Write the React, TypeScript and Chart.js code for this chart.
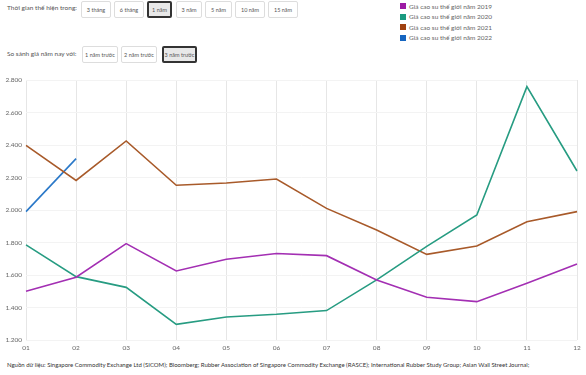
import React, { useEffect, useRef } from "react";
import { Chart, registerables } from "chart.js";

Chart.register(...registerables);

const months = ["01", "02", "03", "04", "05", "06", "07", "08", "09", "10", "11", "12"];
const seriesNames = [
  "Giá cao su thế giới năm 2019",
  "Giá cao su thế giới năm 2020",
  "Giá cao su thế giới năm 2021",
  "Giá cao su thế giới năm 2022",
];
const price2019 = [1500, 1586, 1793, 1625, 1697, 1732, 1719, 1569, 1463, 1436, 1549, 1668];
const price2020 = [1785, 1590, 1524, 1296, 1342, 1358, 1381, 1570, 1776, 1969, 2759, 2240];
const price2021 = [2398, 2182, 2425, 2152, 2166, 2191, 2010, 1877, 1727, 1778, 1928, 1990];
const price2022 = [1990, 2316];
const lineColors = ["#a32fb3", "#279c82", "#a85a2a", "#2a78c8"];
const legendColors = ["#9c1aa3", "#1a9a80", "#a0410f", "#1565c0"];
const periodOptions = ["3 tháng", "6 tháng", "1 năm", "3 năm", "5 năm", "10 năm", "15 năm"];
const compareOptions = ["1 năm trước", "2 năm trước", "3 năm trước"];
const yTicks = [1200, 1400, 1600, 1800, 2000, 2200, 2400, 2600, 2800];
const footnote =
  "Nguồn dữ liệu: Singapore Commodity Exchange Ltd (SICOM); Bloomberg; Rubber Association of Singapore Commodity Exchange (RASCE); International Rubber Study Group; Asian Wall Street Journal;";

const FONT = "Lato, 'Liberation Sans', sans-serif";

function fmt(v: number) {
  return String(v).replace(/\B(?=(\d{3})+(?!\d))/g, ".");
}

const periodWidths = [30, 30, 25, 26, 27, 30, 30];
const periodLefts = [81, 114, 147, 176, 205, 235, 268];
const compareWidths = [36, 36, 35];
const compareLefts = [82, 121, 162];

function Btn(props: { label: string; left: number; top: number; width: number; height: number; selected: boolean }) {
  const { label, left, top, width, height, selected } = props;
  return (
    <div
      style={{
        position: "absolute",
        left,
        top,
        width,
        height,
        boxSizing: "border-box",
        border: selected ? "2px solid #333" : "1px solid #ddd",
        borderRadius: 2,
        background: selected ? "#e8e8e8" : "#fff",
        fontSize: 5.5,
        color: "#555",
        display: "flex",
        alignItems: "center",
        justifyContent: "center",
        whiteSpace: "nowrap",
        fontFamily: FONT,
      }}
    >
      {label}
    </div>
  );
}

export default function App() {
  const canvasRef = useRef<HTMLCanvasElement>(null);

  useEffect(() => {
    document.body.style.margin = "0";
    const ctx = canvasRef.current!;
    const data = [price2019, price2020, price2021, price2022];
    const chart = new Chart(ctx, {
      type: "line",
      data: {
        labels: months,
        datasets: data.map((d, i) => ({
          label: seriesNames[i],
          data: d,
          borderColor: lineColors[i],
          backgroundColor: lineColors[i],
          borderWidth: 1.6,
          pointRadius: 0,
          tension: 0,
          fill: false,
        })),
      },
      options: {
        animation: false,
        responsive: false,
        maintainAspectRatio: false,
        layout: { padding: { top: 10, right: 9, left: 0, bottom: 0 } },
        plugins: { legend: { display: false }, tooltip: { enabled: false } },
        scales: {
          x: {
            grid: { color: "#e6e6e6", drawTicks: false },
            border: { display: false },
            ticks: {
              color: "#666",
              font: { size: 6.5, family: FONT },
              padding: 4,
              maxRotation: 0,
            },
            afterFit: (s: any) => {
              s.height = 20;
            },
          },
          y: {
            min: 1200,
            max: 2800,
            grid: { color: "#f3f3f3", drawTicks: false },
            border: { display: false },
            afterBuildTicks: (s: any) => {
              s.ticks = yTicks.map((v) => ({ value: v }));
            },
            ticks: {
              color: "#666",
              font: { size: 6.5, family: FONT },
              padding: 4,
              callback: (v: any) => fmt(Number(v)),
            },
            afterFit: (s: any) => {
              s.width = 26;
            },
          },
        },
      },
    });
    return () => chart.destroy();
  }, []);

  return (
    <div style={{ position: "relative", width: 586, height: 375, fontFamily: FONT, color: "#555", overflow: "hidden" }}>
      <div style={{ position: "absolute", left: 7, top: 4, fontSize: 6.5, whiteSpace: "nowrap" }}>Thời gian thể hiện trong:</div>
      {periodOptions.map((p, i) => (
        <Btn key={p} label={p} left={periodLefts[i]} top={1} width={periodWidths[i]} height={17} selected={i === 2} />
      ))}
      <div style={{ position: "absolute", left: 7, top: 50, fontSize: 6.5, whiteSpace: "nowrap" }}>So sánh giá năm nay với:</div>
      {compareOptions.map((p, i) => (
        <Btn key={p} label={p} left={compareLefts[i]} top={46} width={compareWidths[i]} height={17} selected={i === 2} />
      ))}
      <div style={{ position: "absolute", left: 400, top: 1 }}>
        {seriesNames.map((n, i) => (
          <div key={n} style={{ display: "flex", alignItems: "center", height: 10.5, fontSize: 6.5, color: "#666", whiteSpace: "nowrap" }}>
            <span style={{ display: "inline-block", width: 6, height: 6, background: legendColors[i], marginRight: 3 }} />
            {n}
          </div>
        ))}
      </div>
      <canvas ref={canvasRef} width={586} height={290} style={{ position: "absolute", left: 0, top: 70, width: 586, height: 290 }} />
      <div style={{ position: "absolute", left: 7, top: 361, fontSize: 6, color: "#333", whiteSpace: "nowrap" }}>{footnote}</div>
    </div>
  );
}
